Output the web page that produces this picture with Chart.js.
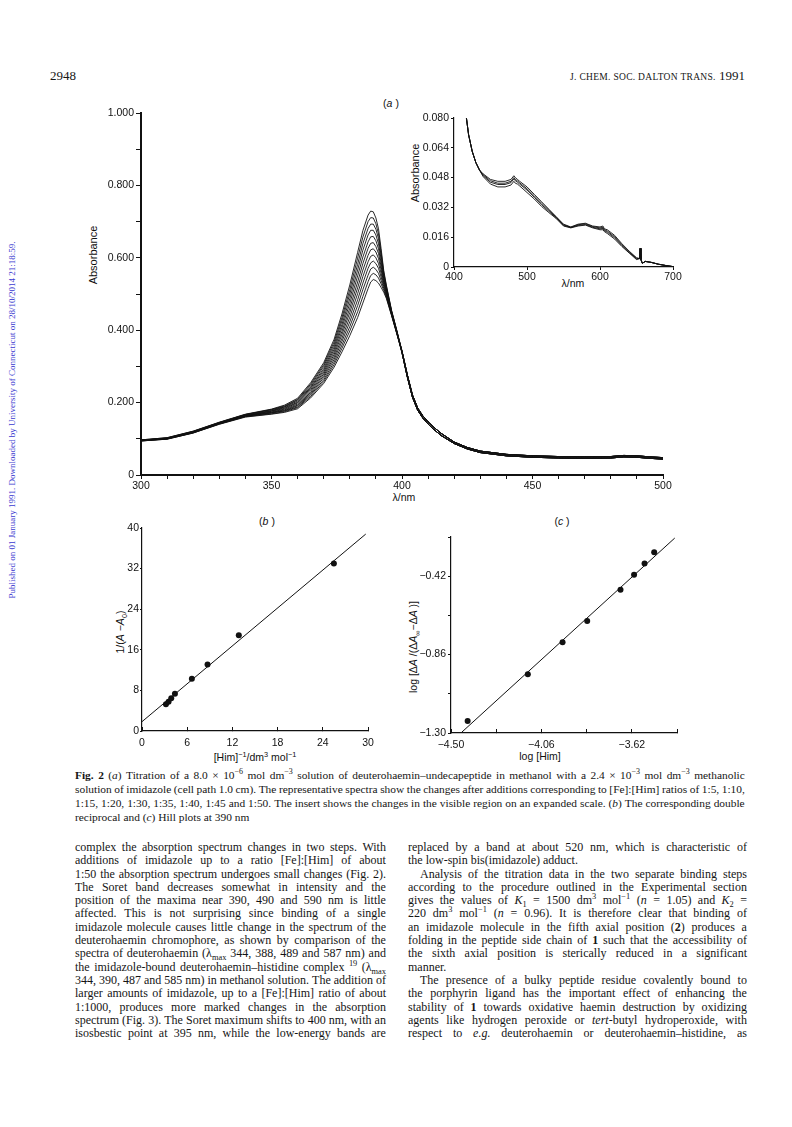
<!DOCTYPE html>
<html><head><meta charset="utf-8">
<script src="https://cdn.jsdelivr.net/npm/chart.js@4.4.0/dist/chart.umd.min.js"></script>
<style>
html,body{margin:0;padding:0;background:#fff;}
body{width:792px;height:1127px;position:relative;overflow:hidden;font-family:"Liberation Serif","Times New Roman",serif;color:#151515;}
canvas{position:absolute;}
.t{position:absolute;white-space:nowrap;}
.c{transform:translate(-50%,-50%);}
.r{transform:translate(-50%,-50%) rotate(-90deg);}
.sans{font-family:"Liberation Sans",Arial,sans-serif;color:#111;}
.jl{display:flex;justify-content:space-between;white-space:nowrap;}
.pl{white-space:nowrap;}
.col{position:absolute;font-size:12px;line-height:13.3px;}
.cap{position:absolute;font-size:11.4px;line-height:14px;}
sub,sup{font-size:70%;line-height:0;}
</style></head><body>

<div class="t" style="left:50px;top:68px;font-size:13px;">2948</div>
<div class="t" style="right:47px;top:68px;font-size:13px;"><span style="font-size:9.5px;letter-spacing:0.3px;">J. CHEM. SOC. DALTON TRANS.</span> 1991</div>

<div class="t r" style="left:12px;top:420px;font-size:9px;color:#3a3ad0;">Published on 01 January 1991. Downloaded by University of Connecticut on 28/10/2014 21:18:59.</div>

<div class="t c sans" style="left:391px;top:103px;font-size:10.5px;">(<i>a</i> )</div>
<div class="t r sans" style="left:93px;top:255px;font-size:11px;">Absorbance</div>
<div class="t c sans" style="left:404px;top:497px;font-size:10.5px;">λ/nm</div>
<div class="t r sans" style="left:415px;top:173px;font-size:11px;">Absorbance</div>
<div class="t c sans" style="left:573px;top:283px;font-size:10.5px;">λ/nm</div>

<div class="t c sans" style="left:267px;top:521px;font-size:10.5px;">(<i>b</i> )</div>
<div class="t r sans" style="left:120px;top:632px;font-size:10.5px;">1/(<i>A</i> −<i>A</i><sub>0</sub>)</div>
<div class="t c sans" style="left:255px;top:757px;font-size:10.5px;">[Him]<sup>−1</sup>/dm<sup>3</sup> mol<sup>−1</sup></div>

<div class="t c sans" style="left:562px;top:521px;font-size:10.5px;">(<i>c</i> )</div>
<div class="t r sans" style="left:413px;top:647px;font-size:10.5px;">log [Δ<i>A</i> /(Δ<i>A</i><sub>∞</sub>−Δ<i>A</i> )]</div>
<div class="t c sans" style="left:540px;top:756px;font-size:10.5px;">log [Him]</div>

<div id="cap" class="cap" style="left:75px;top:768px;width:670px;"></div>
<div id="colL" class="col" style="left:75px;top:841px;width:311px;"></div>
<div id="colR" class="col" style="left:408px;top:841px;width:339px;"></div>

<script>
// ---------- DATA ----------
// Fig 2(a) main spectra: wavelengths (nm)
const lamHead = [300,310,320,330,340,350,355,360,365,370,374,377,380,383,385,387,388,389,390,391,392,393,394,396,398];
const lamTail = [400,402,404,406,408,410,412,415,420,425,430,440,450,460,470,480,485,490,495,500];
// absorbance, one array per spectrum (highest Soret band first)
const spec01 = [.097,.103,.121,.146,.168,.182,.193,.212,.255,.310,.375,.445,.525,.615,.675,.718,.729,.727,.710,.680,.625,.565,.525,.455,.400];
const spec02 = [.097,.103,.121,.145,.167,.181,.191,.209,.251,.305,.368,.435,.512,.599,.657,.700,.711,.710,.694,.666,.615,.560,.522,.454,.399];
const spec03 = [.096,.102,.120,.145,.167,.180,.189,.207,.247,.300,.361,.426,.500,.582,.639,.681,.693,.693,.679,.653,.606,.554,.518,.452,.398];
const spec04 = [.096,.102,.120,.144,.166,.178,.188,.204,.243,.294,.354,.416,.487,.566,.621,.663,.676,.676,.663,.639,.596,.549,.515,.451,.397];
const spec05 = [.096,.101,.119,.144,.165,.177,.186,.201,.240,.289,.347,.407,.474,.550,.602,.644,.658,.659,.647,.625,.586,.543,.512,.450,.396];
const spec06 = [.096,.101,.119,.143,.164,.176,.184,.199,.236,.284,.340,.397,.461,.533,.584,.626,.640,.642,.631,.612,.576,.538,.508,.448,.395];
const spec07 = [.095,.101,.118,.143,.164,.174,.182,.196,.232,.279,.333,.388,.449,.517,.566,.607,.622,.625,.616,.598,.567,.532,.505,.447,.395];
const spec08 = [.095,.100,.118,.142,.163,.173,.180,.193,.228,.274,.326,.378,.436,.501,.548,.589,.604,.608,.600,.584,.557,.527,.502,.446,.394];
const spec09 = [.095,.100,.117,.142,.162,.172,.178,.191,.224,.269,.319,.369,.423,.484,.530,.571,.586,.591,.584,.571,.547,.521,.498,.444,.393];
const spec10 = [.094,.100,.117,.141,.162,.171,.177,.188,.221,.263,.312,.359,.410,.468,.512,.552,.569,.574,.568,.557,.537,.516,.495,.443,.392];
const spec11 = [.094,.099,.116,.141,.161,.169,.175,.186,.217,.258,.305,.350,.398,.451,.493,.534,.551,.557,.553,.544,.528,.510,.491,.442,.391];
const spec12 = [.094,.099,.116,.140,.160,.168,.173,.183,.213,.253,.298,.340,.385,.435,.475,.515,.533,.540,.537,.530,.518,.505,.488,.440,.390];
// long-wavelength part where the spectra almost coincide (upper / lower readings)
const tailHi = [.342,.278,.221,.185,.163,.147,.133,.115,.091,.076,.066,.057,.053,.051,.050,.051,.054,.053,.050,.048];
const tailLo = [.338,.272,.215,.179,.157,.141,.127,.109,.087,.072,.062,.053,.049,.047,.046,.047,.050,.049,.046,.044];

// Inset: visible region
const lamInset = [417,420,425,430,435,440,450,460,470,478,482,484,487,490,500,510,520,530,540,550,560,570,580,590,600,604,606,610,620,630,640,650,654,655,656,658,662,670,680,690,700];
const insetA = [.080,.071,.062,.056,.052,.050,.047,.046,.046,.047,.049,.048,.047,.046,.043,.039,.035,.031,.027,.023,.0215,.023,.0235,.022,.0215,.022,.0205,.020,.017,.0125,.0085,.005,.0045,.010,.004,.002,.003,.0025,.0015,.0008,.0002];
const insetB = [.080,.071,.062,.056,.052,.0495,.0463,.0450,.0450,.0460,.0480,.0470,.0462,.0452,.0420,.0382,.0342,.0305,.0268,.0227,.0213,.0227,.0232,.0217,.0210,.0213,.0200,.0193,.0163,.0120,.0082,.0047,.0045,.010,.004,.002,.003,.0025,.0015,.0008,.0002];
const insetC = [.080,.071,.062,.056,.052,.0490,.0455,.0443,.0443,.0453,.0473,.0463,.0455,.0445,.0413,.0374,.0334,.0299,.0264,.0223,.0212,.0223,.0228,.0213,.0205,.0207,.0195,.0187,.0157,.0115,.0078,.0043,.0045,.010,.004,.002,.003,.0025,.0015,.0008,.0002];
const insetD = [.080,.071,.062,.056,.052,.0485,.0445,.0430,.0430,.0440,.0460,.0450,.0445,.0435,.0400,.0365,.0325,.0292,.0260,.0220,.0210,.0220,.0225,.0210,.0200,.0200,.0190,.0180,.0150,.0110,.0075,.0040,.0045,.010,.004,.002,.003,.0025,.0015,.0008,.0002];

// Fig 2(b) double reciprocal plot
const recipHim = [3.18,3.53,3.88,4.37,6.62,8.70,12.85,25.47];
const recipA   = [5.26,5.78,6.43,7.36,10.3,13.1,18.85,33.0];
const fitBx = [0, 29.7];
const fitBy = [1.84, 38.8];

// Fig 2(c) Hill plot
const logHim = [-4.419,-4.126,-3.957,-3.837,-3.675,-3.609,-3.558,-3.511];
const hillY  = [-1.233,-0.970,-0.790,-0.671,-0.496,-0.412,-0.349,-0.285];
const fitCx = [-4.448, -3.411];
const fitCy = [-1.296, -0.206];

// tick settings
const ticksA_x = {min:300, max:500, step:10, major:50};
const ticksA_y = {min:0, max:1, step:0.1};
const ticksIn_x = {min:400, max:700, step:100};
const ticksIn_y = {min:0, max:0.08, step:0.016};
const ticksB_x = {min:0, max:30, step:6};
const ticksB_y = {min:0, max:40, step:8};
const ticksC_x = {min:-4.50, max:-3.40, step:0.22};
const ticksC_y = {min:-1.30, max:-0.20, step:0.22};

// ---------- CHARTS ----------
const INK = '#111';
const sans = "'Liberation Sans', Arial, sans-serif";
function pts(xs, ys){ return xs.map((x,i)=>({x:x, y:ys[i]})); }
function axis(t, o){
  return {
    type:'linear', min:t.min, max:t.max,
    border:{display:true, color:INK, width:o.bw||1.2},
    grid:{display:true, drawOnChartArea:false, drawTicks:true, tickLength:o.tl, color:INK, lineWidth:1},
    ticks:{stepSize:t.step, autoSkip:false, maxRotation:0, maxTicksLimit:200, padding:o.pad,
           color:INK, font:{family:sans, size:o.fs||10}, callback:o.cb}
  };
}
function mkChart(c){
  const cv = document.createElement('canvas');
  cv.width = c.w; cv.height = c.h;
  cv.style.left = c.left+'px'; cv.style.top = c.top+'px';
  cv.style.width = c.w+'px'; cv.style.height = c.h+'px';
  document.body.appendChild(cv);
  const xs = c.x, ys = c.y;
  xs.afterFit = s => { s.height = c.xH; };
  ys.afterFit = s => { s.width = c.yW; };
  xs.position = 'bottom'; ys.position = 'left';
  return new Chart(cv.getContext('2d'), {
    type:'line',
    data:{datasets:c.datasets},
    options:{
      responsive:false, animation:false, devicePixelRatio:1,
      layout:{padding:c.pad},
      plugins:{legend:{display:false}, tooltip:{enabled:false}},
      elements:{point:{radius:0}, line:{tension:0}},
      scales:{x:xs, y:ys}
    }
  });
}
const near = (v, m) => Math.abs(v/m - Math.round(v/m)) < 1e-6;

// (a) main
const mainSpectra = [spec01,spec02,spec03,spec04,spec05,spec06,spec07,spec08,spec09,spec10,spec11,spec12];
const lamAll = lamHead.concat(lamTail);
mkChart({
  left:80, top:100, w:600, h:400, pad:{left:0, right:17, top:13, bottom:0}, yW:61, xH:25,
  datasets: mainSpectra.map((s,i)=>({data:pts(lamAll, s.concat(i%2 ? tailLo : tailHi)), borderColor:INK, borderWidth:0.9, fill:false})),
  x: axis(ticksA_x, {bw:2, tl:4, pad:1, fs:10.5, cb:v => near(v, ticksA_x.major) ? String(v) : ''}),
  y: axis(ticksA_y, {bw:2, tl:5, pad:2, fs:10.5, cb:v => { const r = Math.round(v*10); return r%2 ? '' : (r===0 ? '0' : v.toFixed(3)); }})
});

// (a) inset
mkChart({
  left:400, top:100, w:290, h:200, pad:{left:0, right:17, top:18, bottom:0}, yW:54, xH:33,
  datasets: [insetA,insetB,insetC,insetD].map(s=>({data:pts(lamInset, s), borderColor:INK, borderWidth:0.9, fill:false})),
  x: axis(ticksIn_x, {bw:1.2, tl:3, pad:1, fs:10.5, cb:v => String(v)}),
  y: axis(ticksIn_y, {bw:1.2, tl:3, pad:2, fs:10.5, cb:(v,i) => i===0 ? '0' : v.toFixed(3)})
});

// (b)
mkChart({
  left:90, top:510, w:300, h:250, pad:{left:0, right:22, top:18, bottom:0}, yW:52, xH:29,
  datasets: [
    {data:pts(fitBx, fitBy), borderColor:INK, borderWidth:1, pointRadius:0},
    {data:pts(recipHim, recipA), showLine:false, pointRadius:3, pointBackgroundColor:INK, pointBorderWidth:0}
  ],
  x: axis(ticksB_x, {bw:1.2, tl:-4, pad:10, fs:10.5, cb:v => String(Math.round(v))}),
  y: axis(ticksB_y, {bw:1.2, tl:2, pad:1, fs:10.5, cb:v => String(Math.round(v))})
});

// (c)
const fmtC = (v,i) => i%2 ? '' : '−' + Math.abs(v).toFixed(2);
mkChart({
  left:390, top:510, w:300, h:250, pad:{left:0, right:13, top:27, bottom:0}, yW:61, xH:27,
  datasets: [
    {data:pts(fitCx, fitCy), borderColor:INK, borderWidth:1, pointRadius:0},
    {data:pts(logHim, hillY), showLine:false, pointRadius:3, pointBackgroundColor:INK, pointBorderWidth:0}
  ],
  x: axis(ticksC_x, {bw:1.2, tl:-4, pad:10, fs:10.5, cb:fmtC}),
  y: axis(ticksC_y, {bw:1.2, tl:3, pad:2, fs:10.5, cb:fmtC})
});

// ---------- TEXT ----------
const capLines = [
  '<b>Fig. 2</b> (<i>a</i>) Titration of a 8.0 × 10<sup>−6</sup> mol dm<sup>−3</sup> solution of deuterohaemin–undecapeptide in methanol with a 2.4 × 10<sup>−3</sup> mol dm<sup>−3</sup> methanolic',
  'solution of imidazole (cell path 1.0 cm). The representative spectra show the changes after additions corresponding to [Fe]:[Him] ratios of 1:5, 1:10,',
  '1:15, 1:20, 1:30, 1:35, 1:40, 1:45 and 1:50. The insert shows the changes in the visible region on an expanded scale. (<i>b</i>) The corresponding double',
  '*reciprocal and (<i>c</i>) Hill plots at 390 nm'
];
const leftLines = [
  'complex the absorption spectrum changes in two steps. With',
  'additions of imidazole up to a ratio [Fe]:[Him] of about',
  '1:50 the absorption spectrum undergoes small changes (Fig. 2).',
  'The Soret band decreases somewhat in intensity and the',
  'position of the maxima near 390, 490 and 590 nm is little',
  'affected. This is not surprising since binding of a single',
  'imidazole molecule causes little change in the spectrum of the',
  'deuterohaemin chromophore, as shown by comparison of the',
  'spectra of deuterohaemin (λ<sub>max</sub> 344, 388, 489 and 587 nm) and',
  'the imidazole-bound deuterohaemin–histidine complex <sup>19</sup> (λ<sub>max</sub>',
  '344, 390, 487 and 585 nm) in methanol solution. The addition of',
  'larger amounts of imidazole, up to a [Fe]:[Him] ratio of about',
  '1:1000, produces more marked changes in the absorption',
  'spectrum (Fig. 3). The Soret maximum shifts to 400 nm, with an',
  'isosbestic point at 395 nm, while the low-energy bands are'
];
const rightLines = [
  'replaced by a band at about 520 nm, which is characteristic of',
  '*the low-spin bis(imidazole) adduct.',
  '>Analysis of the titration data in the two separate binding steps',
  'according to the procedure outlined in the Experimental section',
  'gives the values of <i>K</i><sub>1</sub> = 1500 dm<sup>3</sup> mol<sup>−1</sup> (<i>n</i> = 1.05) and <i>K</i><sub>2</sub> =',
  '220 dm<sup>3</sup> mol<sup>−1</sup> (<i>n</i> = 0.96). It is therefore clear that binding of',
  'an imidazole molecule in the fifth axial position (<b>2</b>) produces a',
  'folding in the peptide side chain of <b>1</b> such that the accessibility of',
  'the sixth axial position is sterically reduced in a significant',
  '*manner.',
  '>The presence of a bulky peptide residue covalently bound to',
  'the porphyrin ligand has the important effect of enhancing the',
  'stability of <b>1</b> towards oxidative haemin destruction by oxidizing',
  'agents like hydrogen peroxide or <i>tert</i>-butyl hydroperoxide, with',
  'respect to <i>e.g.</i> deuterohaemin or deuterohaemin–histidine, as'
];
function fill(id, lines){
  const box = document.getElementById(id);
  lines.forEach(l => {
    const d = document.createElement('div');
    if (l[0] === '*') { d.className = 'pl'; d.innerHTML = l.slice(1); }
    else {
      let indent = false;
      if (l[0] === '>') { indent = true; l = l.slice(1); }
      d.className = 'jl';
      if (indent) d.style.paddingLeft = '12px';
      d.innerHTML = l.split(' ').map(w => '<span>' + w + '</span>').join('');
    }
    box.appendChild(d);
  });
}
fill('cap', capLines);
fill('colL', leftLines);
fill('colR', rightLines);
</script>
</body></html>
